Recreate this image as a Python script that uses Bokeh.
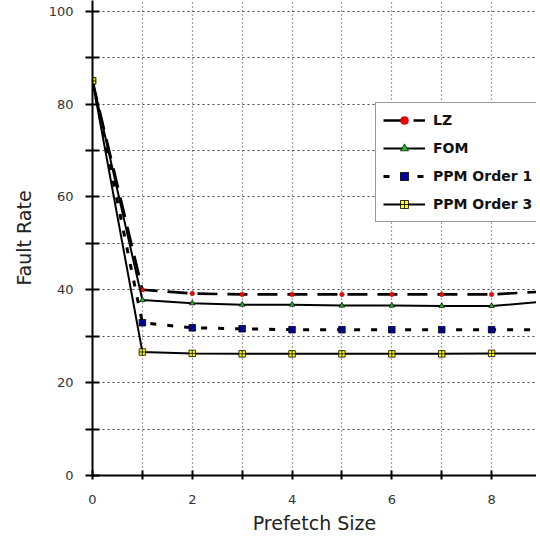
from bokeh.plotting import figure
from bokeh.models import FixedTicker, Legend, LegendItem, Range1d
from bokeh.embed import file_html
from bokeh.resources import INLINE

prefetch = [0, 1, 2, 3, 4, 5, 6, 7, 8, 9]
lz = [85, 40.0, 39.2, 39.0, 39.0, 39.0, 39.0, 39.0, 39.0, 39.6]
fom = [85, 37.8, 37.1, 36.8, 36.8, 36.6, 36.6, 36.5, 36.5, 37.4]
ppm1 = [85, 32.9, 31.8, 31.6, 31.4, 31.4, 31.4, 31.4, 31.4, 31.4]
ppm3 = [85, 26.6, 26.3, 26.2, 26.2, 26.2, 26.2, 26.2, 26.3, 26.3]

x_ticks = [0, 1, 2, 3, 4, 5, 6, 7, 8, 9]
y_ticks = [0, 10, 20, 30, 40, 50, 60, 70, 80, 90, 100]

FONT = "DejaVu Sans"

p = figure(width=536, height=537, output_backend="svg", toolbar_location=None,
           x_range=Range1d(0, 8.9), y_range=Range1d(0, 102.3),
           min_border_left=92, min_border_right=0, min_border_top=0, min_border_bottom=62)
p.outline_line_color = None
p.background_fill_color = "white"

# grid
p.xgrid.ticker = FixedTicker(ticks=x_ticks)
p.ygrid.ticker = FixedTicker(ticks=y_ticks)
p.xgrid.grid_line_color = "#444444"
p.xgrid.grid_line_dash = "1 3"
p.xgrid.grid_line_width = 1.2
p.ygrid.grid_line_color = "#444444"
p.ygrid.grid_line_dash = "2 3"
p.ygrid.grid_line_width = 1.2

# axes
xa = p.xaxis[0]
xa.ticker = FixedTicker(ticks=x_ticks)
xa.major_label_overrides = {1: "", 3: "", 5: "", 7: "", 9: ""}
xa.axis_line_width = 2
xa.major_tick_line_width = 2
xa.major_tick_in = 5
xa.major_tick_out = 4
xa.minor_tick_line_color = None
xa.major_label_standoff = 15
xa.major_label_text_font = FONT
xa.major_label_text_font_size = "13px"
xa.major_label_text_color = "#333333"
xa.axis_label = "Prefetch Size"
xa.axis_label_text_font = FONT
xa.axis_label_text_font_size = "19px"
xa.axis_label_text_font_style = "normal"
xa.axis_label_text_color = "#222222"
xa.axis_label_standoff = 5

ya = p.yaxis[0]
ya.ticker = FixedTicker(ticks=y_ticks)
ya.major_label_overrides = {10: "", 30: "", 50: "", 70: "", 90: ""}
ya.axis_line_width = 2
ya.major_tick_line_width = 2
ya.major_tick_in = 7
ya.major_tick_out = 7
ya.minor_tick_line_color = None
ya.major_label_standoff = 12
ya.major_label_text_font = FONT
ya.major_label_text_font_size = "13px"
ya.major_label_text_color = "#333333"
ya.axis_label = "Fault Rate"
ya.axis_label_text_font = FONT
ya.axis_label_text_font_size = "19px"
ya.axis_label_text_font_style = "normal"
ya.axis_label_text_color = "#222222"
ya.axis_label_standoff = 11

# series
l1 = p.line(prefetch, lz, line_color="black", line_width=2.6, line_dash="20 10")
m1 = p.scatter(prefetch, lz, marker="circle", size=4.5, fill_color="red", line_color="#990000", line_width=0.5)

l2 = p.line(prefetch, fom, line_color="black", line_width=2)
m2 = p.scatter(prefetch, fom, marker="triangle", size=5.5, fill_color="#22bb22", line_color="black", line_width=0.7)

l3 = p.line(prefetch, ppm1, line_color="black", line_width=3, line_dash="6 11")
m3 = p.scatter(prefetch, ppm1, marker="square_x", size=6.5, fill_color="#0000cc", line_color="black", line_width=0.8)

l4 = p.line(prefetch, ppm3, line_color="black", line_width=2)
m4 = p.scatter(prefetch, ppm3, marker="square_cross", size=6.5, fill_color="yellow", line_color="black", line_width=0.8)

legend = Legend(items=[
    LegendItem(label="LZ", renderers=[l1, m1]),
    LegendItem(label="FOM", renderers=[l2, m2]),
    LegendItem(label="PPM Order 1", renderers=[l3, m3]),
    LegendItem(label="PPM Order 3", renderers=[l4, m4]),
], location=(283, 253))
legend.glyph_width = 42
legend.glyph_height = 20
legend.label_height = 20
legend.spacing = 8
legend.padding = 7
legend.margin = 0
legend.label_standoff = 8
legend.label_text_font = FONT
legend.label_text_font_size = "14px"
legend.label_text_font_style = "bold"
legend.label_text_color = "#111111"
legend.border_line_color = "#333333"
legend.border_line_width = 1.5
legend.background_fill_color = "white"
legend.background_fill_alpha = 1
p.add_layout(legend, "center")

open("out.html", "w").write(file_html(p, INLINE))
